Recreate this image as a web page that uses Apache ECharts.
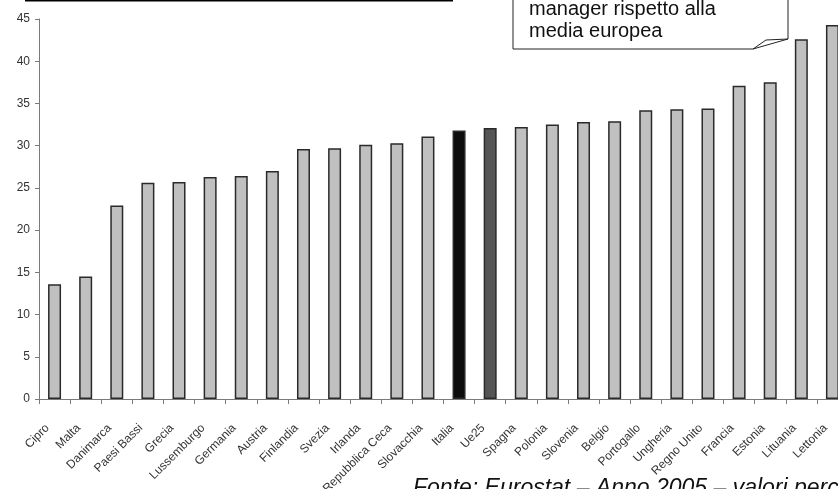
<!DOCTYPE html>
<html>
<head>
<meta charset="utf-8">
<script src="https://cdn.jsdelivr.net/npm/echarts@6/dist/echarts.min.js"></script>
<style>html,body{margin:0;padding:0;background:#fff}#c{width:838px;height:489px}</style>
</head>
<body>
<div id="c"></div>
<script>
const categories = ["Cipro","Malta","Danimarca","Paesi Bassi","Grecia","Lussemburgo","Germania","Austria","Finlandia","Svezia","Irlanda","Repubblica Ceca","Slovacchia","Italia","Ue25","Spagna","Polonia","Slovenia","Belgio","Portogallo","Ungheria","Regno Unito","Francia","Estonia","Lituania","Lettonia"];
const values = [13.6,14.5,22.9,25.6,25.7,26.3,26.4,27.0,29.6,29.7,30.1,30.3,31.1,31.8,32.1,32.2,32.5,32.8,32.9,34.2,34.3,34.4,37.1,37.5,42.6,44.3];
const yTicks = [0,5,10,15,20,25,30,35,40,45];
const calloutLines = ["manager rispetto alla","media europea"];
const sourceNote = "Fonte: Eurostat \u2013 Anno 2005 \u2013 valori percentuali";

const highlight = {"Italia":"#0d0d0d","Ue25":"#555555"};
const seriesData = values.map((v,i)=>({value:v,itemStyle:{color:highlight[categories[i]]||"#c0c0c0"}}));

const chart = echarts.init(document.getElementById('c'));
chart.setOption({
  animation:false,
  backgroundColor:'#fff',
  grid:{left:39, top:19, width:809, height:380, containLabel:false, outerBoundsMode:'none'},
  xAxis:{
    type:'category', data:categories,
    axisLine:{lineStyle:{color:'#7a7a7a',width:1}},
    axisTick:{show:true,alignWithLabel:false,length:5,lineStyle:{color:'#7a7a7a'}},
    axisLabel:{interval:0,rotate:45,margin:20,padding:[0,10,0,0],color:'#333',fontSize:12,fontFamily:'Liberation Sans, Arial, sans-serif'}
  },
  yAxis:{
    type:'value', min:yTicks[0], max:yTicks[yTicks.length-1], interval:yTicks[1]-yTicks[0],
    splitLine:{show:false},
    axisLine:{show:true,lineStyle:{color:'#7a7a7a',width:1}},
    axisTick:{show:true,length:4,lineStyle:{color:'#7a7a7a'}},
    axisLabel:{margin:9,color:'#333',fontSize:12,fontFamily:'Liberation Sans, Arial, sans-serif'}
  },
  series:[{
    type:'bar', data:seriesData, barWidth:13,
    itemStyle:{borderColor:'#2a2a2a',borderWidth:1.5}
  }],
  graphic:[
    {type:'line',shape:{x1:25,y1:0.5,x2:453,y2:0.5},style:{stroke:'#000',lineWidth:2}},
    {type:'polygon',shape:{points:[[513,-5],[513,49],[753,49],[788,39],[788,-5]]},style:{fill:'#fff',stroke:'#222',lineWidth:1}},
    {type:'polyline',shape:{points:[[753,49],[766,40],[788,39]]},style:{fill:null,stroke:'#222',lineWidth:1}},
    {type:'text',left:529,top:-2,style:{text:calloutLines.join('\n'),font:'20px Liberation Sans, Arial, sans-serif',fill:'#111',lineHeight:22}},
    {type:'text',x:413,y:500,style:{text:sourceNote,font:'italic 23px Liberation Sans, Arial, sans-serif',fill:'#111',verticalAlign:'bottom'}}
  ]
});
</script>
</body>
</html>
